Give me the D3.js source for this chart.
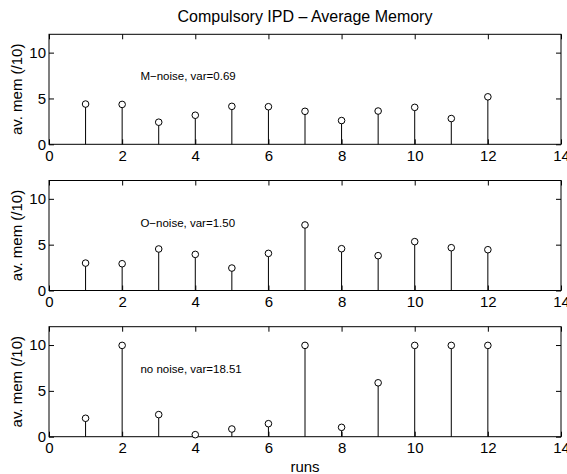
<!DOCTYPE html>
<html>
<head>
<meta charset="utf-8">
<script src="https://cdn.jsdelivr.net/npm/d3@7"></script>
<style>
  body { margin: 0; background: #fff; }
  svg { display: block; font-family: "Liberation Sans", Arial, Helvetica, sans-serif; }
  .axis text { font-size: 15px; fill: #000; }
  .axis line { stroke: #000; }
  .axis path { display: none; }
</style>
</head>
<body>
<svg id="chart" width="567" height="474"></svg>
<script>
// runs 1..12, average memory per run
var runs = [1, 2, 3, 4, 5, 6, 7, 8, 9, 10, 11, 12];
var mNoise = [4.39, 4.35, 2.41, 3.17, 4.14, 4.10, 3.60, 2.59, 3.63, 4.03, 2.81, 5.18];
var oNoise = [2.99, 2.92, 4.53, 3.94, 2.45, 4.05, 7.15, 4.56, 3.80, 5.33, 4.67, 4.45];
var noNoise = [2.01, 9.96, 2.41, 0.22, 0.84, 1.42, 9.96, 1.02, 5.88, 9.96, 9.96, 9.96];
var panelLabels = ["M\u2212noise, var=0.69", "O\u2212noise, var=1.50", "no noise, var=18.51"];
var xTicks = [0, 2, 4, 6, 8, 10, 12, 14];
var yTicks = [0, 5, 10];

var svg = d3.select("#chart"),
    margin = {left: 49, right: 6},
    width = +svg.attr("width") - margin.left - margin.right,
    panelTop = [34.3, 180.5, 326.7],
    panelH = 110;

var x = d3.scaleLinear().domain([0, 14]).range([0, width]);
var y = d3.scaleLinear().domain([0, 12]).range([panelH, 0]);

svg.append("text")
    .attr("x", margin.left + width / 2)
    .attr("y", 22)
    .attr("text-anchor", "middle")
    .style("font-size", "16px")
    .text("Compulsory IPD \u2013 Average Memory");

[mNoise, oNoise, noNoise].forEach(function(series, i) {
  var g = svg.append("g")
      .attr("transform", "translate(" + margin.left + "," + panelTop[i] + ")");

  // inward ticks on all four sides
  g.append("g").attr("class", "axis")
      .attr("transform", "translate(0," + panelH + ")")
      .call(d3.axisBottom(x).tickValues(xTicks).tickSize(-5).tickPadding(6));
  g.append("g").attr("class", "axis")
      .call(d3.axisTop(x).tickValues(xTicks).tickSize(-5).tickFormat(""));
  g.append("g").attr("class", "axis")
      .call(d3.axisLeft(y).tickValues(yTicks).tickSize(-5).tickPadding(3));
  g.append("g").attr("class", "axis")
      .attr("transform", "translate(" + width + ",0)")
      .call(d3.axisRight(y).tickValues(yTicks).tickSize(-5).tickFormat(""));

  g.append("rect")
      .attr("width", width)
      .attr("height", panelH)
      .attr("fill", "none")
      .attr("stroke", "#000");

  g.selectAll(".stem")
    .data(series)
    .enter().append("line")
      .attr("class", "stem")
      .attr("x1", function(d, j) { return x(runs[j]); })
      .attr("x2", function(d, j) { return x(runs[j]); })
      .attr("y1", y(0))
      .attr("y2", function(d) { return y(d); })
      .attr("stroke", "#000");

  g.selectAll(".mark")
    .data(series)
    .enter().append("circle")
      .attr("class", "mark")
      .attr("cx", function(d, j) { return x(runs[j]); })
      .attr("cy", function(d) { return y(d); })
      .attr("r", 3.3)
      .attr("fill", "#fff")
      .attr("stroke", "#000");

  g.append("text")
      .attr("x", x(2.5))
      .attr("y", y(7.4))
      .attr("dy", "0.35em")
      .style("font-size", "11.5px")
      .text(panelLabels[i]);

  g.append("text")
      .attr("transform", "translate(-27," + panelH / 2 + ") rotate(-90)")
      .attr("text-anchor", "middle")
      .style("font-size", "15px")
      .text("av. mem (/10)");
});

svg.append("text")
    .attr("x", margin.left + width / 2)
    .attr("y", 472)
    .attr("text-anchor", "middle")
    .style("font-size", "15px")
    .text("runs");
</script>
</body>
</html>
